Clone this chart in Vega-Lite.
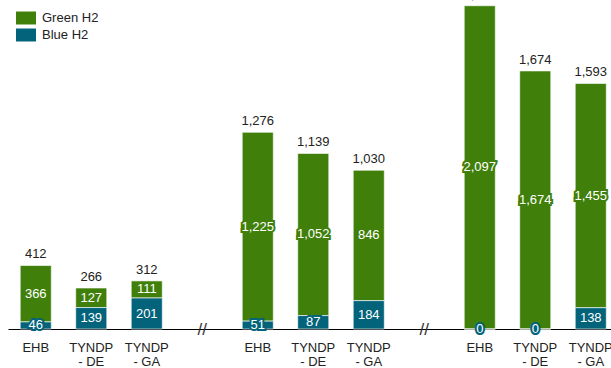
{
  "$schema": "https://vega.github.io/schema/vega-lite/v6.json",
  "autosize": {"type": "none"},
  "width": 603,
  "height": 329,
  "padding": {"left": 8, "top": 0, "right": 0, "bottom": 39},
  "background": "#ffffff",
  "config": {
    "view": {"stroke": null},
    "font": "Liberation Sans",
    "text": {"font": "Liberation Sans"}
  },
  "datasets": {
    "h2": [
      {"slot": "EHB_1", "type": "Green H2", "value": 366},
      {"slot": "EHB_1", "type": "Blue H2", "value": 46},
      {"slot": "TYNDP|- DE_1", "type": "Green H2", "value": 127},
      {"slot": "TYNDP|- DE_1", "type": "Blue H2", "value": 139},
      {"slot": "TYNDP|- GA_1", "type": "Green H2", "value": 111},
      {"slot": "TYNDP|- GA_1", "type": "Blue H2", "value": 201},
      {"slot": "EHB_2", "type": "Green H2", "value": 1225},
      {"slot": "EHB_2", "type": "Blue H2", "value": 51},
      {"slot": "TYNDP|- DE_2", "type": "Green H2", "value": 1052},
      {"slot": "TYNDP|- DE_2", "type": "Blue H2", "value": 87},
      {"slot": "TYNDP|- GA_2", "type": "Green H2", "value": 846},
      {"slot": "TYNDP|- GA_2", "type": "Blue H2", "value": 184},
      {"slot": "EHB_3", "type": "Green H2", "value": 2097},
      {"slot": "EHB_3", "type": "Blue H2", "value": 0},
      {"slot": "TYNDP|- DE_3", "type": "Green H2", "value": 1674},
      {"slot": "TYNDP|- DE_3", "type": "Blue H2", "value": 0},
      {"slot": "TYNDP|- GA_3", "type": "Green H2", "value": 1455},
      {"slot": "TYNDP|- GA_3", "type": "Blue H2", "value": 138}
    ],
    "breaks": [
      {"slot": "gap_1"},
      {"slot": "gap_2"}
    ]
  },
  "data": {"name": "h2"},
  "encoding": {
    "x": {
      "field": "slot",
      "type": "nominal",
      "sort": null,
      "scale": {
        "domain": ["EHB_1", "TYNDP|- DE_1", "TYNDP|- GA_1", "gap_1", "EHB_2", "TYNDP|- DE_2", "TYNDP|- GA_2", "gap_2", "EHB_3", "TYNDP|- DE_3", "TYNDP|- GA_3"],
        "range": [0, 610.5],
        "paddingInner": 0.44,
        "paddingOuter": 0.22
      },
      "axis": {
        "title": null,
        "ticks": false,
        "labelAngle": 0,
        "labelFont": "Liberation Sans",
        "labelFontSize": 13,
        "labelColor": "#222222",
        "labelLineHeight": 14,
        "labelPadding": 12,
        "labelExpr": "indexof(datum.label, 'gap') == 0 ? '' : split(slice(datum.label, 0, -2), '|')",
        "domainColor": "#000000",
        "domainWidth": 1,
        "grid": false
      }
    }
  },
  "layer": [
    {
      "transform": [
        {"stack": "value", "groupby": ["slot"], "sort": [{"field": "type", "order": "ascending"}], "as": ["v0", "v1"]}
      ],
      "mark": {"type": "bar", "stroke": "#ffffff", "strokeWidth": 0.8, "strokeOpacity": 0.8},
      "encoding": {
        "y": {"field": "v0", "type": "quantitative", "scale": {"domain": [0, 2134], "nice": false}, "axis": null},
        "y2": {"field": "v1"},
        "color": {
          "field": "type",
          "type": "nominal",
          "scale": {"domain": ["Green H2", "Blue H2"], "range": ["#40800a", "#03637a"]},
          "legend": {
            "title": null,
            "orient": "none",
            "legendX": 8,
            "legendY": 8,
            "padding": 0,
            "symbolType": "M-1,-0.65h2v1.3h-2z",
            "symbolSize": 400,
            "symbolStrokeWidth": 0,
            "symbolOpacity": 1,
            "labelFont": "Liberation Sans",
            "labelFontSize": 13,
            "labelColor": "#222222",
            "labelOffset": 6,
            "rowPadding": 0
          }
        }
      }
    },
    {
      "data": {"name": "breaks"},
      "mark": {"type": "text", "text": "//", "fontSize": 17, "color": "#333333", "baseline": "middle", "dy": 1},
      "encoding": {
        "y": {"datum": 0, "type": "quantitative"}
      }
    },
    {
      "transform": [
        {"stack": "value", "groupby": ["slot"], "sort": [{"field": "type", "order": "ascending"}], "as": ["v0", "v1"]},
        {"fold": ["v0", "v1"], "as": ["edge", "pos"]}
      ],
      "mark": {"type": "text", "fontSize": 13, "baseline": "middle", "strokeWidth": 4, "strokeJoin": "miter"},
      "encoding": {
        "y": {"aggregate": "mean", "field": "pos", "type": "quantitative", "stack": null},
        "text": {"aggregate": "max", "field": "value", "type": "quantitative", "format": ","},
        "stroke": {"field": "type", "type": "nominal", "scale": {"domain": ["Green H2", "Blue H2"], "range": ["#40800a", "#03637a"]}, "legend": null},
        "fill": {"field": "type", "type": "nominal", "scale": {"domain": ["Green H2", "Blue H2"], "range": ["#40800a", "#03637a"]}, "legend": null}
      }
    },
    {
      "transform": [
        {"stack": "value", "groupby": ["slot"], "sort": [{"field": "type", "order": "ascending"}], "as": ["v0", "v1"]},
        {"fold": ["v0", "v1"], "as": ["edge", "pos"]}
      ],
      "mark": {"type": "text", "fontSize": 13, "baseline": "middle", "color": "#ffffff"},
      "encoding": {
        "y": {"aggregate": "mean", "field": "pos", "type": "quantitative", "stack": null},
        "text": {"aggregate": "max", "field": "value", "type": "quantitative", "format": ","},
        "detail": {"field": "type", "type": "nominal"}
      }
    },
    {
      "mark": {"type": "text", "fontSize": 13, "baseline": "alphabetic", "dy": -7, "color": "#222222"},
      "encoding": {
        "y": {"aggregate": "sum", "field": "value", "type": "quantitative"},
        "text": {"aggregate": "sum", "field": "value", "type": "quantitative", "format": ","}
      }
    }
  ]
}
